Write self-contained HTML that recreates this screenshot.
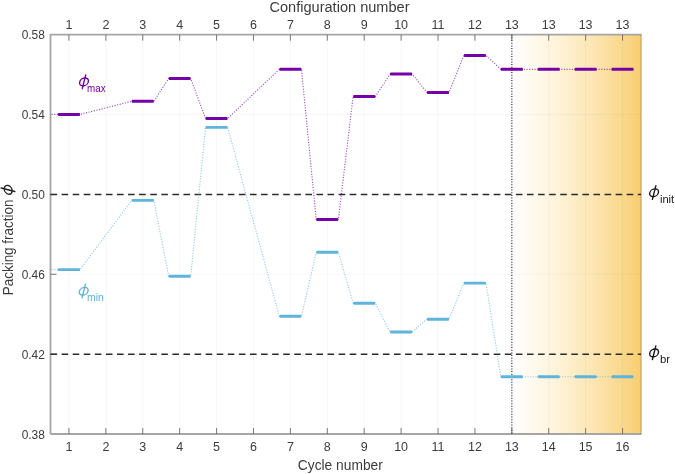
<!DOCTYPE html>
<html><head><meta charset="utf-8"><title>Packing fraction</title>
<style>html,body{margin:0;padding:0;background:#fff;}svg{display:block;will-change:transform;}text{font-family:"Liberation Sans",sans-serif;}</style>
</head><body>
<svg width="675" height="474" viewBox="0 0 675 474">
<defs><linearGradient id="g" x1="0" y1="0" x2="1" y2="0"><stop offset="0" stop-color="#ffffff"/><stop offset="0.3" stop-color="#fff5de"/><stop offset="0.6" stop-color="#fde7b6"/><stop offset="0.86" stop-color="#fad88a"/><stop offset="1" stop-color="#f9cd6e"/></linearGradient></defs>
<rect x="0" y="0" width="675" height="474" fill="#ffffff"/>
<rect x="511.83" y="34.7" width="129.67" height="399.30" fill="url(#g)"/>
<line x1="68.95" y1="34.7" x2="68.95" y2="434.0" stroke="#000" stroke-opacity="0.035" stroke-width="1"/>
<line x1="105.86" y1="34.7" x2="105.86" y2="434.0" stroke="#000" stroke-opacity="0.035" stroke-width="1"/>
<line x1="142.77" y1="34.7" x2="142.77" y2="434.0" stroke="#000" stroke-opacity="0.035" stroke-width="1"/>
<line x1="179.67" y1="34.7" x2="179.67" y2="434.0" stroke="#000" stroke-opacity="0.035" stroke-width="1"/>
<line x1="216.58" y1="34.7" x2="216.58" y2="434.0" stroke="#000" stroke-opacity="0.035" stroke-width="1"/>
<line x1="253.48" y1="34.7" x2="253.48" y2="434.0" stroke="#000" stroke-opacity="0.035" stroke-width="1"/>
<line x1="290.39" y1="34.7" x2="290.39" y2="434.0" stroke="#000" stroke-opacity="0.035" stroke-width="1"/>
<line x1="327.30" y1="34.7" x2="327.30" y2="434.0" stroke="#000" stroke-opacity="0.035" stroke-width="1"/>
<line x1="364.20" y1="34.7" x2="364.20" y2="434.0" stroke="#000" stroke-opacity="0.035" stroke-width="1"/>
<line x1="401.11" y1="34.7" x2="401.11" y2="434.0" stroke="#000" stroke-opacity="0.035" stroke-width="1"/>
<line x1="438.02" y1="34.7" x2="438.02" y2="434.0" stroke="#000" stroke-opacity="0.035" stroke-width="1"/>
<line x1="474.92" y1="34.7" x2="474.92" y2="434.0" stroke="#000" stroke-opacity="0.035" stroke-width="1"/>
<line x1="511.83" y1="34.7" x2="511.83" y2="434.0" stroke="#000" stroke-opacity="0.035" stroke-width="1"/>
<line x1="548.73" y1="34.7" x2="548.73" y2="434.0" stroke="#000" stroke-opacity="0.035" stroke-width="1"/>
<line x1="585.64" y1="34.7" x2="585.64" y2="434.0" stroke="#000" stroke-opacity="0.035" stroke-width="1"/>
<line x1="622.55" y1="34.7" x2="622.55" y2="434.0" stroke="#000" stroke-opacity="0.035" stroke-width="1"/>
<line x1="50.5" y1="114.56" x2="641.0" y2="114.56" stroke="#000" stroke-opacity="0.035" stroke-width="1"/>
<line x1="50.5" y1="274.28" x2="641.0" y2="274.28" stroke="#000" stroke-opacity="0.035" stroke-width="1"/>
<path d="M50.5 434.0 L50.5 34.7 L641.5 34.7" fill="none" stroke="#a6a6a6" stroke-width="1.8"/>
<path d="M50.5 434.0 L641.5 434.0" fill="none" stroke="#a6a6a6" stroke-width="1.8"/>
<line x1="641.0" y1="34.7" x2="641.0" y2="434.0" stroke="#8a7a55" stroke-opacity="0.55" stroke-width="1"/>
<line x1="68.95" y1="434.0" x2="68.95" y2="428.0" stroke="#6a6a6a" stroke-width="0.9"/>
<line x1="68.95" y1="34.7" x2="68.95" y2="40.7" stroke="#6a6a6a" stroke-width="0.9"/>
<line x1="105.86" y1="434.0" x2="105.86" y2="428.0" stroke="#6a6a6a" stroke-width="0.9"/>
<line x1="105.86" y1="34.7" x2="105.86" y2="40.7" stroke="#6a6a6a" stroke-width="0.9"/>
<line x1="142.77" y1="434.0" x2="142.77" y2="428.0" stroke="#6a6a6a" stroke-width="0.9"/>
<line x1="142.77" y1="34.7" x2="142.77" y2="40.7" stroke="#6a6a6a" stroke-width="0.9"/>
<line x1="179.67" y1="434.0" x2="179.67" y2="428.0" stroke="#6a6a6a" stroke-width="0.9"/>
<line x1="179.67" y1="34.7" x2="179.67" y2="40.7" stroke="#6a6a6a" stroke-width="0.9"/>
<line x1="216.58" y1="434.0" x2="216.58" y2="428.0" stroke="#6a6a6a" stroke-width="0.9"/>
<line x1="216.58" y1="34.7" x2="216.58" y2="40.7" stroke="#6a6a6a" stroke-width="0.9"/>
<line x1="253.48" y1="434.0" x2="253.48" y2="428.0" stroke="#6a6a6a" stroke-width="0.9"/>
<line x1="253.48" y1="34.7" x2="253.48" y2="40.7" stroke="#6a6a6a" stroke-width="0.9"/>
<line x1="290.39" y1="434.0" x2="290.39" y2="428.0" stroke="#6a6a6a" stroke-width="0.9"/>
<line x1="290.39" y1="34.7" x2="290.39" y2="40.7" stroke="#6a6a6a" stroke-width="0.9"/>
<line x1="327.30" y1="434.0" x2="327.30" y2="428.0" stroke="#6a6a6a" stroke-width="0.9"/>
<line x1="327.30" y1="34.7" x2="327.30" y2="40.7" stroke="#6a6a6a" stroke-width="0.9"/>
<line x1="364.20" y1="434.0" x2="364.20" y2="428.0" stroke="#6a6a6a" stroke-width="0.9"/>
<line x1="364.20" y1="34.7" x2="364.20" y2="40.7" stroke="#6a6a6a" stroke-width="0.9"/>
<line x1="401.11" y1="434.0" x2="401.11" y2="428.0" stroke="#6a6a6a" stroke-width="0.9"/>
<line x1="401.11" y1="34.7" x2="401.11" y2="40.7" stroke="#6a6a6a" stroke-width="0.9"/>
<line x1="438.02" y1="434.0" x2="438.02" y2="428.0" stroke="#6a6a6a" stroke-width="0.9"/>
<line x1="438.02" y1="34.7" x2="438.02" y2="40.7" stroke="#6a6a6a" stroke-width="0.9"/>
<line x1="474.92" y1="434.0" x2="474.92" y2="428.0" stroke="#6a6a6a" stroke-width="0.9"/>
<line x1="474.92" y1="34.7" x2="474.92" y2="40.7" stroke="#6a6a6a" stroke-width="0.9"/>
<line x1="511.83" y1="434.0" x2="511.83" y2="428.0" stroke="#6a6a6a" stroke-width="0.9"/>
<line x1="511.83" y1="34.7" x2="511.83" y2="40.7" stroke="#6a6a6a" stroke-width="0.9"/>
<line x1="548.73" y1="434.0" x2="548.73" y2="428.0" stroke="#6a6a6a" stroke-width="0.9"/>
<line x1="548.73" y1="34.7" x2="548.73" y2="40.7" stroke="#6a6a6a" stroke-width="0.9"/>
<line x1="585.64" y1="434.0" x2="585.64" y2="428.0" stroke="#6a6a6a" stroke-width="0.9"/>
<line x1="585.64" y1="34.7" x2="585.64" y2="40.7" stroke="#6a6a6a" stroke-width="0.9"/>
<line x1="622.55" y1="434.0" x2="622.55" y2="428.0" stroke="#6a6a6a" stroke-width="0.9"/>
<line x1="622.55" y1="34.7" x2="622.55" y2="40.7" stroke="#6a6a6a" stroke-width="0.9"/>
<line x1="50.5" y1="194.42" x2="56.5" y2="194.42" stroke="#6a6a6a" stroke-width="0.9"/>
<line x1="50.5" y1="274.28" x2="56.5" y2="274.28" stroke="#6a6a6a" stroke-width="0.9"/>
<line x1="50.5" y1="354.14" x2="56.5" y2="354.14" stroke="#6a6a6a" stroke-width="0.9"/>
<line x1="50.5" y1="194.42" x2="641.0" y2="194.42" stroke="#2b2b2b" stroke-width="1.5" stroke-dasharray="6.6 4.481"/>
<line x1="50.5" y1="354.14" x2="641.0" y2="354.14" stroke="#2b2b2b" stroke-width="1.5" stroke-dasharray="6.6 4.481"/>
<line x1="511.83" y1="34.7" x2="511.83" y2="434.0" stroke="#3a3a3a" stroke-width="1.3" stroke-dasharray="1 1.67"/>
<path d="M51.50 269.60 L57.88 269.60 L80.03 269.60 L131.69 200.40 L153.84 200.40 L168.60 276.30 L190.74 276.30 L205.51 127.40 L227.65 127.40 L279.32 316.30 L301.46 316.30 L316.23 252.30 L338.37 252.30 L353.13 303.20 L375.27 303.20 L390.04 332.00 L412.18 332.00 L426.94 319.20 L449.09 319.20 L463.85 283.10 L485.99 283.10 L500.76 376.70 L522.90 376.70 L537.66 376.70 L559.81 376.70 L574.57 376.70 L596.71 376.70 L611.48 376.70 L633.62 376.70" fill="none" stroke="#5FB4DC" stroke-opacity="0.7" stroke-width="1.15" stroke-dasharray="1.1 1.57"/>
<rect x="57.88" y="268.15" width="22.14" height="2.9" rx="0.9" fill="#5FB4DC"/>
<rect x="131.69" y="198.95" width="22.14" height="2.9" rx="0.9" fill="#5FB4DC"/>
<rect x="168.60" y="274.85" width="22.14" height="2.9" rx="0.9" fill="#5FB4DC"/>
<rect x="205.51" y="125.95" width="22.14" height="2.9" rx="0.9" fill="#5FB4DC"/>
<rect x="279.32" y="314.85" width="22.14" height="2.9" rx="0.9" fill="#5FB4DC"/>
<rect x="316.23" y="250.85" width="22.14" height="2.9" rx="0.9" fill="#5FB4DC"/>
<rect x="353.13" y="301.75" width="22.14" height="2.9" rx="0.9" fill="#5FB4DC"/>
<rect x="390.04" y="330.55" width="22.14" height="2.9" rx="0.9" fill="#5FB4DC"/>
<rect x="426.94" y="317.75" width="22.14" height="2.9" rx="0.9" fill="#5FB4DC"/>
<rect x="463.85" y="281.65" width="22.14" height="2.9" rx="0.9" fill="#5FB4DC"/>
<rect x="500.76" y="375.25" width="22.14" height="2.9" rx="0.9" fill="#5FB4DC"/>
<rect x="537.66" y="375.25" width="22.14" height="2.9" rx="0.9" fill="#5FB4DC"/>
<rect x="574.57" y="375.25" width="22.14" height="2.9" rx="0.9" fill="#5FB4DC"/>
<rect x="611.48" y="375.25" width="22.14" height="2.9" rx="0.9" fill="#5FB4DC"/>
<path d="M51.50 114.40 L57.88 114.40 L80.03 114.40 L131.69 101.30 L153.84 101.30 L168.60 78.50 L190.74 78.50 L205.51 118.50 L227.65 118.50 L279.32 69.30 L301.46 69.30 L316.23 219.40 L338.37 219.40 L353.13 96.60 L375.27 96.60 L390.04 74.10 L412.18 74.10 L426.94 92.40 L449.09 92.40 L463.85 55.40 L485.99 55.40 L500.76 69.30 L522.90 69.30 L537.66 69.30 L559.81 69.30 L574.57 69.30 L596.71 69.30 L611.48 69.30 L633.62 69.30" fill="none" stroke="#7400A8" stroke-opacity="0.7" stroke-width="1.15" stroke-dasharray="1.1 1.57"/>
<rect x="57.88" y="112.90" width="22.14" height="3.0" rx="0.9" fill="#7400A8"/>
<rect x="131.69" y="99.80" width="22.14" height="3.0" rx="0.9" fill="#7400A8"/>
<rect x="168.60" y="77.00" width="22.14" height="3.0" rx="0.9" fill="#7400A8"/>
<rect x="205.51" y="117.00" width="22.14" height="3.0" rx="0.9" fill="#7400A8"/>
<rect x="279.32" y="67.80" width="22.14" height="3.0" rx="0.9" fill="#7400A8"/>
<rect x="316.23" y="217.90" width="22.14" height="3.0" rx="0.9" fill="#7400A8"/>
<rect x="353.13" y="95.10" width="22.14" height="3.0" rx="0.9" fill="#7400A8"/>
<rect x="390.04" y="72.60" width="22.14" height="3.0" rx="0.9" fill="#7400A8"/>
<rect x="426.94" y="90.90" width="22.14" height="3.0" rx="0.9" fill="#7400A8"/>
<rect x="463.85" y="53.90" width="22.14" height="3.0" rx="0.9" fill="#7400A8"/>
<rect x="500.76" y="67.80" width="22.14" height="3.0" rx="0.9" fill="#7400A8"/>
<rect x="537.66" y="67.80" width="22.14" height="3.0" rx="0.9" fill="#7400A8"/>
<rect x="574.57" y="67.80" width="22.14" height="3.0" rx="0.9" fill="#7400A8"/>
<rect x="611.48" y="67.80" width="22.14" height="3.0" rx="0.9" fill="#7400A8"/>
<text x="68.95" y="451.0" font-size="12.5" fill="#3c3c3c" text-anchor="middle">1</text>
<text x="68.95" y="29.4" font-size="12.5" fill="#3c3c3c" text-anchor="middle">1</text>
<text x="105.86" y="451.0" font-size="12.5" fill="#3c3c3c" text-anchor="middle">2</text>
<text x="105.86" y="29.4" font-size="12.5" fill="#3c3c3c" text-anchor="middle">2</text>
<text x="142.77" y="451.0" font-size="12.5" fill="#3c3c3c" text-anchor="middle">3</text>
<text x="142.77" y="29.4" font-size="12.5" fill="#3c3c3c" text-anchor="middle">3</text>
<text x="179.67" y="451.0" font-size="12.5" fill="#3c3c3c" text-anchor="middle">4</text>
<text x="179.67" y="29.4" font-size="12.5" fill="#3c3c3c" text-anchor="middle">4</text>
<text x="216.58" y="451.0" font-size="12.5" fill="#3c3c3c" text-anchor="middle">5</text>
<text x="216.58" y="29.4" font-size="12.5" fill="#3c3c3c" text-anchor="middle">5</text>
<text x="253.48" y="451.0" font-size="12.5" fill="#3c3c3c" text-anchor="middle">6</text>
<text x="253.48" y="29.4" font-size="12.5" fill="#3c3c3c" text-anchor="middle">6</text>
<text x="290.39" y="451.0" font-size="12.5" fill="#3c3c3c" text-anchor="middle">7</text>
<text x="290.39" y="29.4" font-size="12.5" fill="#3c3c3c" text-anchor="middle">7</text>
<text x="327.30" y="451.0" font-size="12.5" fill="#3c3c3c" text-anchor="middle">8</text>
<text x="327.30" y="29.4" font-size="12.5" fill="#3c3c3c" text-anchor="middle">8</text>
<text x="364.20" y="451.0" font-size="12.5" fill="#3c3c3c" text-anchor="middle">9</text>
<text x="364.20" y="29.4" font-size="12.5" fill="#3c3c3c" text-anchor="middle">9</text>
<text x="401.11" y="451.0" font-size="12.5" fill="#3c3c3c" text-anchor="middle">10</text>
<text x="401.11" y="29.4" font-size="12.5" fill="#3c3c3c" text-anchor="middle">10</text>
<text x="438.02" y="451.0" font-size="12.5" fill="#3c3c3c" text-anchor="middle">11</text>
<text x="438.02" y="29.4" font-size="12.5" fill="#3c3c3c" text-anchor="middle">11</text>
<text x="474.92" y="451.0" font-size="12.5" fill="#3c3c3c" text-anchor="middle">12</text>
<text x="474.92" y="29.4" font-size="12.5" fill="#3c3c3c" text-anchor="middle">12</text>
<text x="511.83" y="451.0" font-size="12.5" fill="#3c3c3c" text-anchor="middle">13</text>
<text x="511.83" y="29.4" font-size="12.5" fill="#3c3c3c" text-anchor="middle">13</text>
<text x="548.73" y="451.0" font-size="12.5" fill="#3c3c3c" text-anchor="middle">14</text>
<text x="548.73" y="29.4" font-size="12.5" fill="#3c3c3c" text-anchor="middle">13</text>
<text x="585.64" y="451.0" font-size="12.5" fill="#3c3c3c" text-anchor="middle">15</text>
<text x="585.64" y="29.4" font-size="12.5" fill="#3c3c3c" text-anchor="middle">13</text>
<text x="622.55" y="451.0" font-size="12.5" fill="#3c3c3c" text-anchor="middle">16</text>
<text x="622.55" y="29.4" font-size="12.5" fill="#3c3c3c" text-anchor="middle">13</text>
<text x="44.9" y="39.20" font-size="12.5" fill="#3c3c3c" text-anchor="end" textLength="23.2" lengthAdjust="spacingAndGlyphs">0.58</text>
<text x="44.9" y="119.06" font-size="12.5" fill="#3c3c3c" text-anchor="end" textLength="23.2" lengthAdjust="spacingAndGlyphs">0.54</text>
<text x="44.9" y="198.92" font-size="12.5" fill="#3c3c3c" text-anchor="end" textLength="23.2" lengthAdjust="spacingAndGlyphs">0.50</text>
<text x="44.9" y="278.78" font-size="12.5" fill="#3c3c3c" text-anchor="end" textLength="23.2" lengthAdjust="spacingAndGlyphs">0.46</text>
<text x="44.9" y="358.64" font-size="12.5" fill="#3c3c3c" text-anchor="end" textLength="23.2" lengthAdjust="spacingAndGlyphs">0.42</text>
<text x="44.9" y="438.50" font-size="12.5" fill="#3c3c3c" text-anchor="end" textLength="23.2" lengthAdjust="spacingAndGlyphs">0.38</text>
<text x="339.5" y="12.4" font-size="14" fill="#3c3c3c" text-anchor="middle" textLength="140" lengthAdjust="spacingAndGlyphs">Configuration number</text>
<text x="340.3" y="469.7" font-size="14" fill="#3c3c3c" text-anchor="middle" textLength="85" lengthAdjust="spacingAndGlyphs">Cycle number</text>
<text transform="translate(13 295.3) rotate(-90)" font-size="14" fill="#3c3c3c" textLength="95.8" lengthAdjust="spacingAndGlyphs">Packing fraction</text>
<g transform="translate(8.2 189.8) rotate(-90) scale(1.0)" fill="none" stroke="#222" stroke-width="1.4" stroke-linecap="round"><ellipse cx="0" cy="0" rx="4.3" ry="3.9" transform="skewX(-14)"/><line x1="1.75" y1="-7.0" x2="-1.7" y2="6.6"/></g>
<g transform="translate(84.0 81.9) rotate(0) scale(1.0)" fill="none" stroke="#7400A8" stroke-width="1.4" stroke-linecap="round"><ellipse cx="0" cy="0" rx="4.3" ry="3.9" transform="skewX(-14)"/><line x1="1.75" y1="-7.0" x2="-1.7" y2="6.6"/></g>
<text x="87.10" y="91.60" font-size="11" fill="#7400A8" textLength="18.5" lengthAdjust="spacingAndGlyphs">max</text>
<g transform="translate(83.7 291.3) rotate(0) scale(1.0)" fill="none" stroke="#5FB4DC" stroke-width="1.4" stroke-linecap="round"><ellipse cx="0" cy="0" rx="4.3" ry="3.9" transform="skewX(-14)"/><line x1="1.75" y1="-7.0" x2="-1.7" y2="6.6"/></g>
<text x="87.00" y="301.00" font-size="11" fill="#5FB4DC" textLength="16.9" lengthAdjust="spacingAndGlyphs">min</text>
<g transform="translate(654.1 192.8) rotate(0) scale(1.0)" fill="none" stroke="#1a1a1a" stroke-width="1.4" stroke-linecap="round"><ellipse cx="0" cy="0" rx="4.3" ry="3.9" transform="skewX(-14)"/><line x1="1.75" y1="-7.0" x2="-1.7" y2="6.6"/></g>
<text x="659.90" y="202.50" font-size="11" fill="#1a1a1a" textLength="14.3" lengthAdjust="spacingAndGlyphs">init</text>
<g transform="translate(654.1 352.9) rotate(0) scale(1.0)" fill="none" stroke="#1a1a1a" stroke-width="1.4" stroke-linecap="round"><ellipse cx="0" cy="0" rx="4.3" ry="3.9" transform="skewX(-14)"/><line x1="1.75" y1="-7.0" x2="-1.7" y2="6.6"/></g>
<text x="659.90" y="362.60" font-size="11" fill="#1a1a1a" textLength="10.1" lengthAdjust="spacingAndGlyphs">br</text>
</svg></body></html>
